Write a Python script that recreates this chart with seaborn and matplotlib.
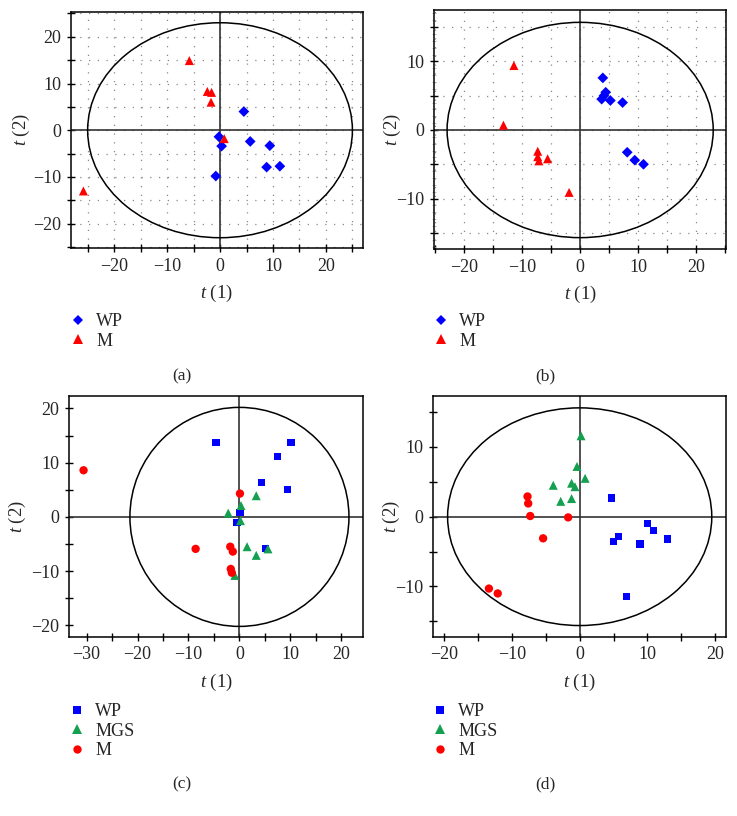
import matplotlib
matplotlib.use('Agg')
import matplotlib.pyplot as plt
import seaborn as sns
import pandas as pd
from matplotlib.patches import Ellipse
from matplotlib.ticker import MultipleLocator, FuncFormatter

# ---------------- data ----------------
groups_ab = ['WP', 'M']
groups_cd = ['WP', 'MGS', 'M']

a_wp_x = [4.5, -0.2, 0.3, 5.7, 9.4, 8.8, 11.3, -0.8]
a_wp_y = [4.0, -1.4, -3.4, -2.4, -3.3, -7.9, -7.7, -9.8]
a_m_x = [-5.8, -2.4, -1.6, -1.7, 0.8, -25.8]
a_m_y = [14.9, 8.3, 8.1, 6.0, -1.8, -13.0]

b_wp_x = [3.9, 4.4, 4.1, 3.7, 5.2, 7.3, 8.1, 9.4, 10.9]
b_wp_y = [7.6, 5.5, 5.0, 4.5, 4.3, 4.0, -3.25, -4.4, -5.0]
b_m_x = [-11.4, -13.2, -7.3, -7.3, -7.1, -5.6, -1.9]
b_m_y = [9.4, 0.7, -3.1, -3.9, -4.5, -4.2, -9.1]

c_wp_x = [-4.6, 10.1, 7.5, 4.3, 9.4, 0.1, -0.5, 5.1]
c_wp_y = [13.7, 13.7, 11.2, 6.3, 5.1, 0.8, -1.0, -5.8]
c_mgs_x = [3.3, 0.3, -2.2, 0.2, 1.5, 3.3, 5.6, -0.9]
c_mgs_y = [3.9, 2.1, 0.7, -0.7, -5.5, -7.1, -5.9, -10.8]
c_m_x = [-30.6, 0.1, -8.6, -1.8, -1.3, -1.7, -1.5]
c_m_y = [8.6, 4.3, -5.9, -5.5, -6.4, -9.6, -10.3]

d_wp_x = [4.7, 10.0, 10.9, 13.0, 5.7, 5.0, 8.9, 6.9]
d_wp_y = [2.7, -1.0, -2.0, -3.2, -2.8, -3.6, -3.9, -11.4]
d_mgs_x = [0.2, -0.4, 0.8, -3.9, -1.2, -0.7, -2.8, -1.2]
d_mgs_y = [11.6, 7.2, 5.5, 4.5, 4.8, 4.3, 2.2, 2.6]
d_m_x = [-7.7, -7.6, -7.3, -1.7, -5.4, -13.4, -12.1]
d_m_y = [2.9, 1.9, 0.1, -0.1, -3.1, -10.3, -11.0]

panel_letters = ['(a)', '(b)', '(c)', '(d)']

# ---------------- style ----------------
sns.set_theme(style='white')
plt.rcParams['font.family'] = ['Liberation Serif', 'DejaVu Serif']
plt.rcParams['mathtext.fontset'] = 'custom'
plt.rcParams['mathtext.rm'] = 'Liberation Serif'
plt.rcParams['mathtext.it'] = 'Liberation Serif:italic'

BLUE = '#0000ff'
RED = '#ff0000'
GREEN = '#14a050'

fig = plt.figure(figsize=(7.37, 8.16), dpi=100)
W, H = 737.0, 816.0


def make_df(names, xs, ys):
    return pd.concat([pd.DataFrame({'t1': x, 't2': y, 'group': n})
                      for n, x, y in zip(names, xs, ys)], ignore_index=True)


def fmt10(v, pos):
    if abs(v / 10 - round(v / 10)) < 1e-6:
        return f'{int(round(v))}'.replace('-', '\u2212')
    return ''


def panel(box, df, order, palette, markers, sizes, xlim, ylim, ell, grid,
          leg_xy, letter, letter_xy, ylab_x, minor_y=False):
    l, t, r, b = box
    ax = fig.add_axes([l / W, 1 - b / H, (r - l) / W, (b - t) / H])
    ax.set_xlim(*xlim)
    ax.set_ylim(*ylim)
    if grid:
        for v in range(-40, 41, 5):
            ax.axvline(v, color='#888888', lw=0.9, ls=(0, (1, 6)), zorder=0)
            ax.axhline(v, color='#888888', lw=0.9, ls=(0, (1, 6)), zorder=0)
    ax.axhline(0, color='#333333', lw=1.2, zorder=2)
    ax.axvline(0, color='#333333', lw=1.2, zorder=2)
    ax.add_patch(Ellipse((0, 0), 2 * ell[0], 2 * ell[1], fill=False,
                         ec='black', lw=1.1, zorder=2))
    sns.scatterplot(data=df, x='t1', y='t2', hue='group', style='group',
                    size='group', hue_order=order, style_order=order,
                    size_order=order, palette=palette, markers=markers,
                    sizes=sizes, linewidth=0, ax=ax, zorder=3)
    h, lab = ax.get_legend_handles_labels()
    ax.get_legend().remove()
    fig.legend(h, lab, loc='upper left',
               bbox_to_anchor=(leg_xy[0] / W, 1 - leg_xy[1] / H),
               frameon=False, borderpad=0, borderaxespad=0,
               handlelength=1.0, handletextpad=0.5, labelspacing=0.15,
               fontsize=13)
    for s in ax.spines.values():
        s.set_visible(True)
        s.set_color('black')
        s.set_linewidth(1.1)
    ax.xaxis.set_major_locator(MultipleLocator(5))
    ax.yaxis.set_major_locator(MultipleLocator(5))
    ax.xaxis.set_major_formatter(FuncFormatter(fmt10))
    ax.yaxis.set_major_formatter(FuncFormatter(fmt10))
    ax.tick_params(axis='both', which='major', direction='inout', length=6,
                   width=1.0, color='black', labelsize=13, pad=4,
                   bottom=True, left=True, top=False, right=False)
    if minor_y:
        ax.yaxis.set_minor_locator(MultipleLocator(1))
        ax.tick_params(axis='y', which='minor', direction='inout', length=3,
                       width=0.6, color='#aaaaaa', left=True)
    ax.set_xlabel('$t$ (1)', fontsize=13.5, labelpad=6)
    ax.set_ylabel('$t$ (2)', fontsize=13.5)
    ax.yaxis.set_label_coords((ylab_x - l) / (r - l), 0.5)
    fig.text(letter_xy[0] / W, 1 - letter_xy[1] / H, letter, ha='center',
             va='center', fontsize=12.5)
    return ax


pal_ab = {'WP': BLUE, 'M': RED}
mk_ab = {'WP': 'D', 'M': '^'}
sz_ab = {'WP': 30, 'M': 42}
pal_cd = {'WP': BLUE, 'MGS': GREEN, 'M': RED}
mk_cd = {'WP': 's', 'MGS': '^', 'M': 'o'}
sz_cd = {'WP': 28, 'MGS': 42, 'M': 36}

df_a = make_df(groups_ab, [a_wp_x, a_m_x], [a_wp_y, a_m_y])
df_b = make_df(groups_ab, [b_wp_x, b_m_x], [b_wp_y, b_m_y])
df_c = make_df(groups_cd, [c_wp_x, c_mgs_x, c_m_x], [c_wp_y, c_mgs_y, c_m_y])
df_d = make_df(groups_cd, [d_wp_x, d_mgs_x, d_m_x], [d_wp_y, d_mgs_y, d_m_y])

panel((70.7, 12, 363, 248), df_a, groups_ab, pal_ab, mk_ab, sz_ab,
      (-28.2, 27.0), (-25.2, 25.3), (25, 23), True, (69, 313),
      panel_letters[0], (181.7, 376), 32)
panel((434.3, 10, 726, 249.3), df_b, groups_ab, pal_ab, mk_ab, sz_ab,
      (-25.1, 25.1), (-17.4, 17.5), (22.9, 15.7), True, (432, 313),
      panel_letters[1], (545, 376), 403, minor_y=True)
panel((69.3, 396, 362.7, 636.7), df_c, groups_cd, pal_cd, mk_cd, sz_cd,
      (-33.4, 24.2), (-22.1, 22.3), (21.5, 20.2), False, (68, 703),
      panel_letters[2], (181.7, 784), 28)
panel((432.7, 396, 726, 636.7), df_d, groups_cd, pal_cd, mk_cd, sz_cd,
      (-21.7, 21.6), (-17.2, 17.3), (19.5, 15.6), False, (431, 703),
      panel_letters[3], (545, 784), 402)

fig.savefig('out.png', dpi=100)
